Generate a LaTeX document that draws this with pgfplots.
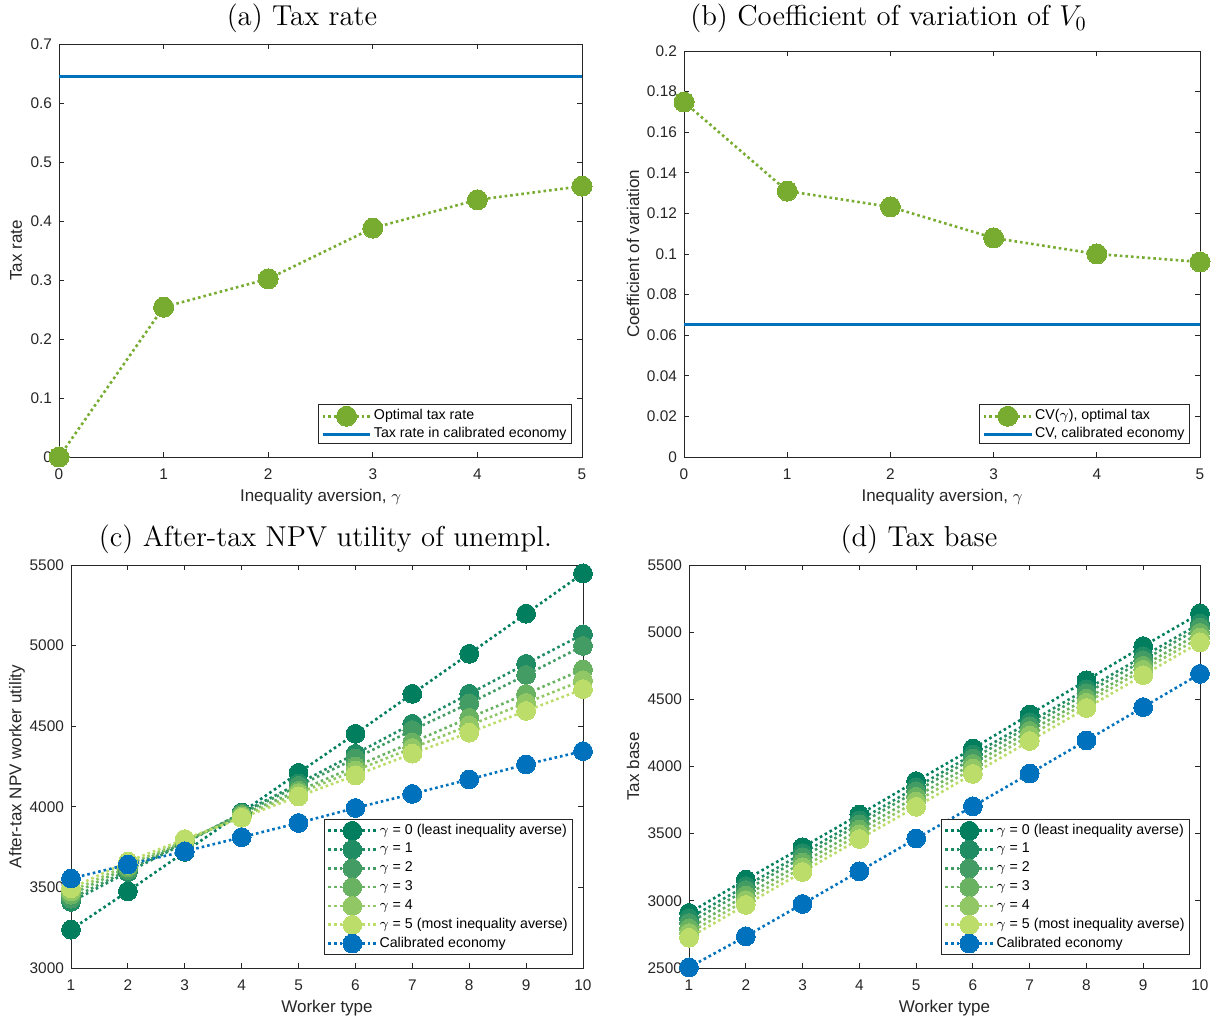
\documentclass[border=0pt]{standalone}
\usepackage{fontspec}
\newfontfamily\arial{Liberation Sans}
\usepackage{pgfplots}
\pgfplotsset{compat=1.18}

\definecolor{mblue}{RGB}{0,114,189}
\definecolor{mgreen}{RGB}{119,172,48}
\definecolor{gA}{RGB}{0,126,94}
\definecolor{gB}{RGB}{32,140,100}
\definecolor{gC}{RGB}{66,156,100}
\definecolor{gD}{RGB}{105,178,98}
\definecolor{gE}{RGB}{145,199,100}
\definecolor{gF}{RGB}{188,221,105}
\definecolor{axgray}{RGB}{38,38,38}

\pgfplotsset{
  panel/.style={
    scale only axis,
    clip=false,
    axis line style={axgray, line width=0.45pt},
    tick style={axgray, line width=0.45pt},
    tick align=inside,
    major tick length=2.6pt,
    minor tick num=0,
    tick label style={font=\arial\fontsize{7.7}{9}\selectfont, text=axgray},
    xticklabel style={yshift=-2.5pt},
    /pgf/number format/assume math mode=true,
    scaled ticks=false,
    label style={font=\arial\fontsize{8.5}{10}\selectfont, text=axgray},
    xlabel style={at={(axis description cs:0.5,0)}, anchor=center, yshift=-20pt},
    title style={font=\fontsize{14.4}{17}\selectfont, anchor=base},
    legend cell align=left,
    legend style={font=\arial\fontsize{7.1}{8}\selectfont, draw=axgray, line width=0.45pt,
      at={(1,0)}, anchor=south east, xshift=-5pt, yshift=6.5pt,
      inner xsep=1.5pt, inner ysep=0.8pt, row sep=0pt,
      nodes={inner ysep=0.6pt, inner xsep=1pt}},
    legend image code/.code={
      \draw[mark repeat=2,mark phase=2,#1] plot coordinates {(0cm,0cm) (0.42cm,0cm) (0.84cm,0cm)};
    },
  },
  dotser/.style={color=#1, line width=1.3pt, dash pattern=on 1.3pt off 1.5pt,
    mark=*, mark size=4.7pt, mark options={solid, fill=#1, draw=#1, line width=0pt}},
}

\begin{document}
\begin{tikzpicture}
\useasboundingbox (0,0) rectangle (609pt,511.5pt);

% (a)
\begin{axis}[panel,
  at={(29.5pt,283pt)}, anchor=south west,
  width=261.5pt, height=206.5pt,
  xmin=0, xmax=5, ymin=0, ymax=0.7,
  xtick={0,1,2,3,4,5}, ytick={0,0.1,0.2,0.3,0.4,0.5,0.6,0.7},
  yticklabel style={/pgf/number format/fixed, /pgf/number format/precision=1},
  xlabel={Inequality aversion, $\gamma$},
  ylabel={Tax rate},
  ylabel style={at={([xshift=-21.5pt]axis description cs:0,0.5)}, anchor=center},
  title={(a) Tax rate},
  title style={at={([yshift=3pt]axis description cs:0.4646,1)}},
]
\addplot[dotser=mgreen, mark size=5pt] coordinates {(0,0) (1,0.254) (2,0.302) (3,0.388) (4,0.436) (5,0.459)};
\addlegendentry{Optimal tax rate}
\addplot[mblue, line width=1.5pt] coordinates {(0,0.645) (5,0.645)};
\addlegendentry{Tax rate in calibrated economy}
\end{axis}

% (b)
\begin{axis}[panel,
  at={(342pt,283pt)}, anchor=south west,
  width=258pt, height=203pt,
  xmin=0, xmax=5, ymin=0, ymax=0.2,
  xtick={0,1,2,3,4,5}, ytick={0,0.02,0.04,0.06,0.08,0.1,0.12,0.14,0.16,0.18,0.2},
  yticklabel style={/pgf/number format/fixed, /pgf/number format/precision=2},
  xlabel={Inequality aversion, $\gamma$},
  ylabel={Coefficient of variation},
  ylabel style={at={([xshift=-25.5pt]axis description cs:0,0.5)}, anchor=center},
  title={(b) Coefficient of variation of $V_0$},
  title style={at={([yshift=6.5pt]axis description cs:0.3963,1)}},
]
\addplot[dotser=mgreen, mark size=5pt] coordinates {(0,0.1749) (1,0.131) (2,0.1232) (3,0.1079) (4,0.1000) (5,0.0961)};
\addlegendentry{CV($\gamma$), optimal tax}
\addplot[mblue, line width=1.5pt] coordinates {(0,0.0655) (5,0.0655)};
\addlegendentry{CV, calibrated economy}
\end{axis}

% (c)
\begin{axis}[panel,
  at={(35.5pt,27.5pt)}, anchor=south west,
  width=256pt, height=201.5pt,
  xmin=1, xmax=10, ymin=3000, ymax=5500,
  xtick={1,2,...,10}, ytick={3000,3500,4000,4500,5000,5500},
  yticklabel style={/pgf/number format/1000 sep={}},
  xlabel={Worker type},
  ylabel={After-tax NPV worker utility},
  ylabel style={at={([xshift=-27pt]axis description cs:0,0.5)}, anchor=center},
  title={(c) After-tax NPV utility of unempl.},
  title style={at={([yshift=3.5pt]axis description cs:0.497,1)}},
]
\addplot[dotser=gA] coordinates {(1,3238) (2,3476) (3,3720) (4,3965) (5,4211) (6,4453) (7,4701) (8,4949) (9,5198) (10,5448)};
\addlegendentry{$\gamma$ = 0 (least inequality averse)}
\addplot[dotser=gB] coordinates {(1,3410) (2,3595) (3,3775) (4,3962) (5,4145) (6,4329) (7,4515) (8,4701) (9,4887) (10,5070)};
\addlegendentry{$\gamma$ = 1}
\addplot[dotser=gC] coordinates {(1,3430) (2,3607) (3,3780) (4,3958) (5,4130) (6,4300) (7,4476) (8,4642) (9,4818) (10,4998)};
\addlegendentry{$\gamma$ = 2}
\addplot[dotser=gD] coordinates {(1,3455) (2,3625) (3,3785) (4,3950) (5,4100) (6,4250) (7,4400) (8,4552) (9,4700) (10,4852)};
\addlegendentry{$\gamma$ = 3}
\addplot[dotser=gE] coordinates {(1,3475) (2,3640) (3,3790) (4,3940) (5,4085) (6,4225) (7,4365) (8,4505) (9,4645) (10,4785)};
\addlegendentry{$\gamma$ = 4}
\addplot[dotser=gF] coordinates {(1,3495) (2,3660) (3,3800) (4,3932) (5,4065) (6,4195) (7,4330) (8,4460) (9,4595) (10,4730)};
\addlegendentry{$\gamma$ = 5 (most inequality averse)}
\addplot[dotser=mblue] coordinates {(1,3555) (2,3642) (3,3724) (4,3811) (5,3900) (6,3993) (7,4080) (8,4170) (9,4263) (10,4345)};
\addlegendentry{Calibrated economy}
\end{axis}

% (d)
\begin{axis}[panel,
  at={(344.5pt,27.5pt)}, anchor=south west,
  width=255.5pt, height=201.5pt,
  xmin=1, xmax=10, ymin=2500, ymax=5500,
  xtick={1,2,...,10}, ytick={2500,3000,3500,4000,4500,5000,5500},
  yticklabel style={/pgf/number format/1000 sep={}},
  xlabel={Worker type},
  ylabel={Tax base},
  ylabel style={at={([xshift=-28pt]axis description cs:0,0.5)}, anchor=center},
  title={(d) Tax base},
  title style={at={([yshift=3.5pt]axis description cs:0.450,1)}},
]
\addplot[dotser=gA] coordinates {(1,2910) (2,3158) (3,3399) (4,3642) (5,3891) (6,4134) (7,4387) (8,4641) (9,4896) (10,5140)};
\addlegendentry{$\gamma$ = 0 (least inequality averse)}
\addplot[dotser=gB] coordinates {(1,2870) (2,3110) (3,3355) (4,3600) (5,3845) (6,4090) (7,4330) (8,4575) (9,4820) (10,5065)};
\addlegendentry{$\gamma$ = 1}
\addplot[dotser=gC] coordinates {(1,2835) (2,3080) (3,3325) (4,3570) (5,3815) (6,4060) (7,4300) (8,4545) (9,4790) (10,5035)};
\addlegendentry{$\gamma$ = 2}
\addplot[dotser=gD] coordinates {(1,2795) (2,3040) (3,3285) (4,3530) (5,3775) (6,4020) (7,4265) (8,4505) (9,4750) (10,4995)};
\addlegendentry{$\gamma$ = 3}
\addplot[dotser=gE] coordinates {(1,2760) (2,3005) (3,3250) (4,3495) (5,3740) (6,3985) (7,4230) (8,4475) (9,4720) (10,4960)};
\addlegendentry{$\gamma$ = 4}
\addplot[dotser=gF] coordinates {(1,2725) (2,2970) (3,3215) (4,3460) (5,3700) (6,3945) (7,4190) (8,4435) (9,4680) (10,4925)};
\addlegendentry{$\gamma$ = 5 (most inequality averse)}
\addplot[dotser=mblue] coordinates {(1,2505) (2,2736) (3,2977) (4,3220) (5,3464) (6,3704) (7,3948) (8,4194) (9,4442) (10,4690)};
\addlegendentry{Calibrated economy}
\end{axis}
\end{tikzpicture}
\end{document}
